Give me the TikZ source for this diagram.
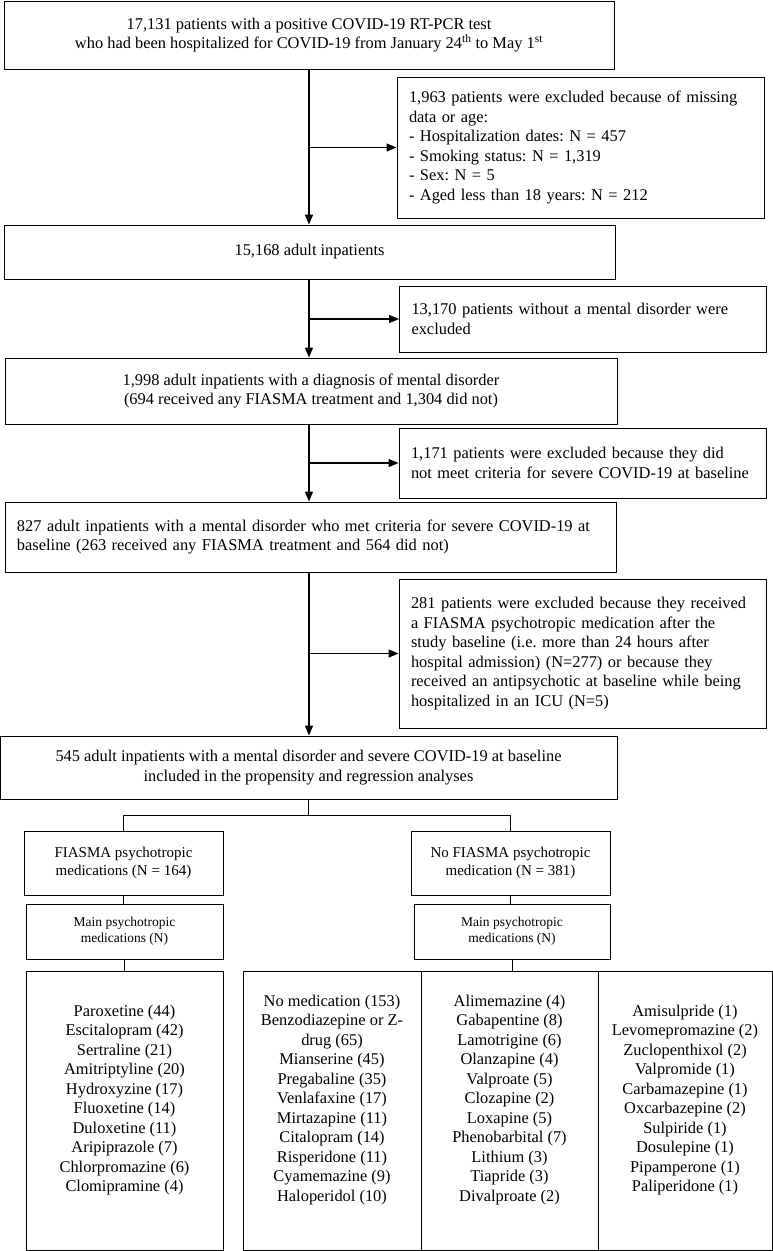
\documentclass[tikz,border=0pt]{standalone}
\usepackage{fontspec}
\setmainfont{Liberation Serif}
\usetikzlibrary{arrows.meta,calc}
\frenchspacing
\hyphenpenalty=10000
\exhyphenpenalty=10000

\begin{document}
\begin{tikzpicture}[x=1bp,y=-1bp,font=\fontsize{16.4bp}{19.5bp}\selectfont]
	\tikzset{
		flow box/.style={draw, line width=0.9bp, inner sep=0pt, align=center},
		excl box/.style={draw, line width=0.9bp, inner xsep=12bp, inner ysep=0pt, align=left, text width=343bp, minimum width=367bp},
		small box/.style={flow box, font=\fontsize{13.5bp}{15.7bp}\selectfont},
		mid box/.style={flow box, font=\fontsize{15bp}{17.7bp}\selectfont},
		flow arrow/.style={line width=1.3bp, -{Triangle[length=10bp,width=8bp]}},
		flow line/.style={line width=0.9bp}
		}
	\useasboundingbox (0,0) rectangle (773,1251);

	\path (309,35) node [name=start, flow box, minimum width=610bp, minimum height=68bp] {17,131 patients with a positive COVID-19 RT-PCR test\\who had been hospitalized for COVID-19 from January 24\textsuperscript{th} to May 1\textsuperscript{st}};
	\path (580.5,147.5) node [name=missing, excl box, minimum height=141bp] {1,963 patients were excluded because of missing\\data or age:\\- Hospitalization dates: N = 457\\- Smoking status: N = 1,319\\- Sex: N = 5\\- Aged less than 18 years: N = 212};
	\path (309.5,252) node [name=adults, flow box, minimum width=611bp, minimum height=54bp] {15,168 adult inpatients};
	\path (583,319) node [name=nomental, excl box, minimum height=66bp] {13,170 patients without a mental disorder were\\excluded};
	\path (311,391) node [name=mental, flow box, minimum width=612bp, minimum height=66bp] {1,998 adult inpatients with a diagnosis of mental disorder\\(694 received any FIASMA treatment and 1,304 did not)};
	\path (582.5,463) node [name=notsevere, excl box, minimum height=70bp] {1,171 patients were excluded because they did\\not meet criteria for severe COVID-19 at baseline};
	\path (310.5,537) node [name=severe, flow box, align=left, inner xsep=12bp, text width=587bp, minimum height=70bp] {827 adult inpatients with a mental disorder who met criteria for severe COVID-19 at\\baseline (263 received any FIASMA treatment and 564 did not)};
	\path (582.5,653.5) node [name=laterfiasma, excl box, minimum height=149bp] {281 patients were excluded because they received\\a FIASMA psychotropic medication after the\\study baseline (i.e. more than 24 hours after\\hospital admission) (N=277) or because they\\received an antipsychotic at baseline while being\\hospitalized in an ICU (N=5)};
	\path (308.5,767.5) node [name=analysed, flow box, minimum width=617bp, minimum height=63bp] {545 adult inpatients with a mental disorder and severe COVID-19 at baseline\\included in the propensity and regression analyses};

	\draw [flow arrow] (start.south) -- (start.south |- adults.north);
	\draw [flow arrow] (missing.west -| start.south) -- (missing.west);
	\draw [flow arrow] (adults.south -| start.south) -- (start.south |- mental.north);
	\draw [flow arrow] (nomental.west -| start.south) -- (nomental.west);
	\draw [flow arrow] (mental.south -| start.south) -- (start.south |- severe.north);
	\draw [flow arrow] (notsevere.west -| start.south) -- (notsevere.west);
	\draw [flow arrow] (severe.south -| start.south) -- (start.south |- analysed.north);
	\draw [flow arrow] (laterfiasma.west -| start.south) -- (laterfiasma.west);

	\path (123.5,863) node [name=fiasma, mid box, minimum width=199bp, minimum height=64bp] {FIASMA psychotropic\\medications (N = 164)};
	\path (510.5,863) node [name=nofiasma, mid box, minimum width=199bp, minimum height=64bp] {No FIASMA psychotropic\\medication (N = 381)};
	\path (124.5,931.5) node [name=mainleft, small box, minimum width=197bp, minimum height=55bp] {Main psychotropic\\medications (N)};
	\path (512,931.5) node [name=mainright, small box, minimum width=196bp, minimum height=55bp] {Main psychotropic\\medications (N)};

	\path (124.5,1110.5) node [name=listleft, flow box, minimum width=197bp, minimum height=279bp] {};
	\path (332,1110.5) node [name=lista, flow box, minimum width=178bp, minimum height=279bp] {};
	\path (509.5,1110.5) node [name=listb, flow box, minimum width=177bp, minimum height=279bp] {};
	\path (685,1110.5) node [name=listc, flow box, minimum width=174bp, minimum height=279bp] {};

	\path (listleft.center) ++(0,-10.5) node [name=fiasmadrugs, align=center] {Paroxetine (44)\\Escitalopram (42)\\Sertraline (21)\\Amitriptyline (20)\\Hydroxyzine (17)\\Fluoxetine (14)\\Duloxetine (11)\\Aripiprazole (7)\\Chlorpromazine (6)\\Clomipramine (4)};
	\path (lista.center) ++(0,-10.5) node [name=drugsa, align=center] {No medication (153)\\Benzodiazepine or Z-\\drug (65)\\Mianserine (45)\\Pregabaline (35)\\Venlafaxine (17)\\Mirtazapine (11)\\Citalopram (14)\\Risperidone (11)\\Cyamemazine (9)\\Haloperidol (10)};
	\path (listb.center) ++(0,-10.5) node [name=drugsb, align=center] {Alimemazine (4)\\Gabapentine (8)\\Lamotrigine (6)\\Olanzapine (4)\\Valproate (5)\\Clozapine (2)\\Loxapine (5)\\Phenobarbital (7)\\Lithium (3)\\Tiapride (3)\\Divalproate (2)};
	\path (listc.center) ++(0,-10.5) node [name=drugsc, align=center] {Amisulpride (1)\\Levomepromazine (2)\\Zuclopenthixol (2)\\Valpromide (1)\\Carbamazepine (1)\\Oxcarbazepine (2)\\Sulpiride (1)\\Dosulepine (1)\\Pipamperone (1)\\Paliperidone (1)};

	\draw [flow line] (analysed.south) -- ++(0,16) -| (fiasma.north);
	\draw [flow line] (analysed.south) ++(0,16) -| (nofiasma.north);
	\draw [flow line] (fiasma.south) -- (fiasma.south |- mainleft.north);
	\draw [flow line] (nofiasma.south) -- (nofiasma.south |- mainright.north);
	\draw [flow line] (mainleft.south) -- (listleft.north);
	\draw [flow line] (mainright.south) -- (mainright.south |- listb.north);
\end{tikzpicture}
\end{document}
